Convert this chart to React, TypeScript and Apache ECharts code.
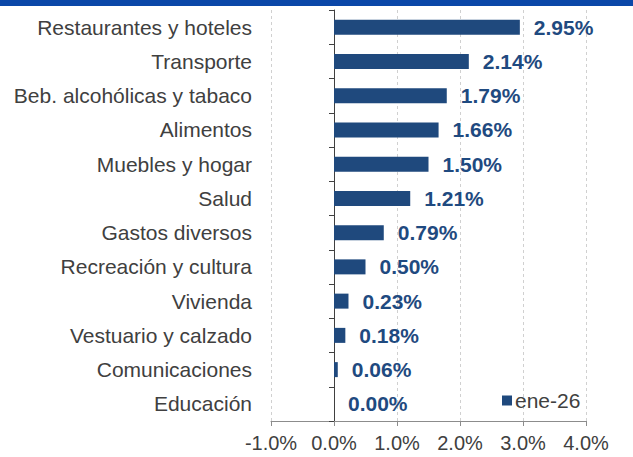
import React, { useEffect, useRef } from "react";
import * as echarts from "echarts";

const categories = [
  "Restaurantes y hoteles",
  "Transporte",
  "Beb. alcohólicas y tabaco",
  "Alimentos",
  "Muebles y hogar",
  "Salud",
  "Gastos diversos",
  "Recreación y cultura",
  "Vivienda",
  "Vestuario y calzado",
  "Comunicaciones",
  "Educación",
];
const values = [2.95, 2.14, 1.79, 1.66, 1.5, 1.21, 0.79, 0.5, 0.23, 0.18, 0.06, 0.0];
const seriesName = "ene-26";
const xMin = -1;
const xMax = 4;
const xStep = 1;

const FONT = "Liberation Sans, Arial, sans-serif";

export default function App() {
  const ref = useRef<HTMLDivElement>(null);
  useEffect(() => {
    if (!ref.current) return;
    const chart = echarts.init(ref.current, undefined, { renderer: "svg" });
    const cats = [...categories].reverse();
    const vals = [...values].reverse();
    chart.setOption({
      animation: false,
      textStyle: { fontFamily: FONT },
      graphic: [
        {
          type: "rect",
          shape: { x: 0, y: 0, width: 633, height: 6 },
          style: { fill: "#0B47A8" },
        },
      ],
      grid: { left: 271, right: 47, top: 10, bottom: 36 },
      legend: {
        left: 497,
        top: 385,
        itemWidth: 10,
        itemHeight: 10,
        itemGap: 4,
        icon: "rect",
        textStyle: { fontSize: 21, color: "#404040", fontFamily: FONT, padding: [0, 0, 0, -2] },
        data: [seriesName],
      },
      xAxis: {
        type: "value",
        min: xMin,
        max: xMax,
        interval: xStep,
        axisLabel: {
          fontSize: 20,
          color: "#404040",
          margin: 12,
          formatter: (v: number) => v.toFixed(1) + "%",
        },
        axisLine: { show: true, lineStyle: { color: "#8C8C8C", width: 1 } },
        axisTick: { show: true, length: 5, lineStyle: { color: "#8C8C8C" } },
        splitLine: { show: true, lineStyle: { color: "#D0D0D0", type: [3, 3] } },
      },
      yAxis: [
        {
          type: "category",
          data: cats,
          position: "left",
          axisLine: { show: false, onZero: false },
          axisTick: { show: false },
          axisLabel: { fontSize: 21, color: "#404040", margin: 19 },
        },
        {
          type: "category",
          data: cats,
          position: "left",
          axisLine: { show: true, onZero: true, lineStyle: { color: "#404040", width: 1 } },
          axisTick: { show: true, length: 5, lineStyle: { color: "#404040" } },
          axisLabel: { show: false },
        },
      ],
      series: [
        {
          name: seriesName,
          type: "bar",
          data: vals,
          barWidth: 15,
          itemStyle: { color: "#1F497D" },
          label: {
            show: true,
            position: "right",
            distance: 14,
            fontSize: 21,
            fontWeight: "bold",
            color: "#1F4A80",
            formatter: (p: any) => p.value.toFixed(2) + "%",
          },
        },
      ],
    });
    return () => chart.dispose();
  }, []);
  return <div ref={ref} style={{ width: 633, height: 457, position: "absolute", left: 0, top: 0 }} />;
}
